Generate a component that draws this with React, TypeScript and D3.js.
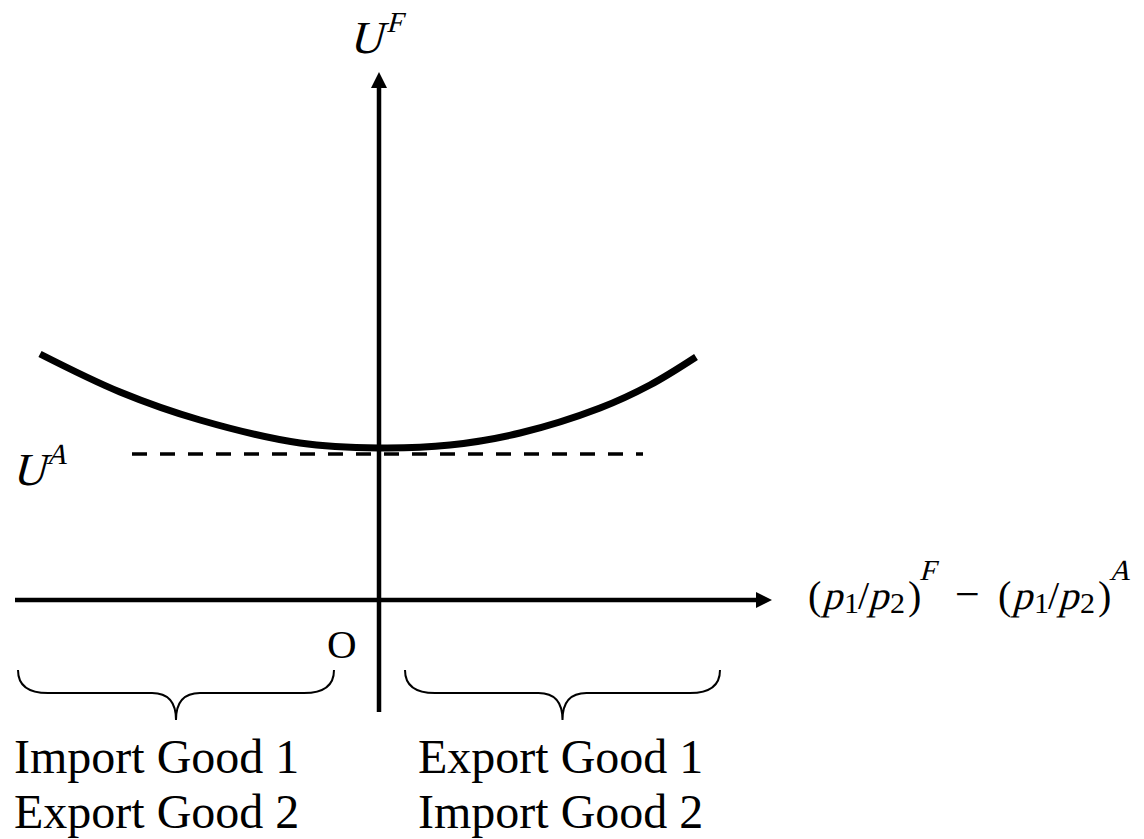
import React from "react";
import * as d3 from "d3";

// Relative price difference (x) and welfare under free trade (y), in diagram units
const curveX = [-3.39, -2.59, -1.79, -0.79, 0, 0.71, 1.41, 2.21, 2.71, 3.17];
const curveY = [2.46, 2.08, 1.8, 1.57, 1.52, 1.55, 1.67, 1.92, 2.15, 2.43];
// Autarky utility level (dashed) and its extent
const autarkyU = 1.46;
const autarkyX = [-2.47, 2.64];
// Axis extents
const xAxisExtent = [-3.64, 3.93];
const yAxisExtent = [-1.12, 5.28];
// Braces (x ranges) and labels
const braceRanges = [
  [-3.61, -0.45],
  [0.26, 3.41],
];
const braceLabels = [
  ["Import Good 1", "Export Good 2"],
  ["Export Good 1", "Import Good 2"],
];

const W = 1144;
const H = 839;
const FONT = "'Liberation Serif', 'Times New Roman', serif";

function Glyph({ t, x, y, fs, it }: { t: string; x: number; y: number; fs: number; it: boolean }) {
  return (
    <text
      transform={`translate(${x},${y})${it ? " skewX(-15)" : ""}`}
      fontSize={fs}
      fontFamily={FONT}
    >
      {t}
    </text>
  );
}

export default function App() {
  const x = d3.scaleLinear().domain(xAxisExtent).range([15, 772]);
  const y = d3.scaleLinear().domain(yAxisExtent).range([712, 72]);

  const pts: [number, number][] = curveX.map((v, i) => [v, curveY[i]]);
  const line = d3
    .line<[number, number]>()
    .x((d) => x(d[0]))
    .y((d) => y(d[1]))
    .curve(d3.curveCatmullRom.alpha(0.5));

  const x0 = x(0);
  const y0 = y(0);
  const xTip = x(xAxisExtent[1]);
  const yTip = y(yAxisExtent[1]);
  const ah = 16;
  const aw = 8;

  const braceTop = 670;
  const braceFlat = 693;
  const braceTip = 720;
  const bracePath = (a: number, b: number) => {
    const x1 = x(a);
    const x2 = x(b);
    const mid = (x1 + x2) / 2;
    const r = 30;
    const r2 = 24;
    return `M${x1},${braceTop} Q${x1},${braceFlat} ${x1 + r},${braceFlat} L${mid - r2},${braceFlat} Q${mid},${braceFlat} ${mid},${braceTip} Q${mid},${braceFlat} ${mid + r2},${braceFlat} L${x2 - r},${braceFlat} Q${x2},${braceFlat} ${x2},${braceTop}`;
  };

  const labelParts = (startX: number, sup: string) => [
    { t: "(", x: startX, it: false, fs: 40, dy: 0 },
    { t: "p", x: startX + 14, it: true, fs: 40, dy: 0 },
    { t: "1", x: startX + 36, it: false, fs: 30, dy: 4 },
    { t: "/", x: startX + 50, it: false, fs: 40, dy: 0 },
    { t: "p", x: startX + 60, it: true, fs: 40, dy: 0 },
    { t: "2", x: startX + 82, it: false, fs: 30, dy: 4 },
    { t: ")", x: startX + 100, it: false, fs: 40, dy: 0 },
    { t: sup, x: startX + 111, it: true, fs: 29, dy: -29 },
  ];
  const lblBase = 609;
  const parts = [
    ...labelParts(808, "F"),
    { t: "\u2212", x: 955, it: false, fs: 44, dy: 0 },
    ...labelParts(998, "A"),
  ];

  return (
    <svg
      width={W}
      height={H}
      style={{ position: "absolute", left: 0, top: 0, display: "block", background: "#fff" }}
      fontFamily={FONT}
    >
      {/* curve */}
      <path d={line(pts) || ""} fill="none" stroke="#000" strokeWidth={7} />
      {/* autarky dashed line */}
      <line
        x1={x(autarkyX[0])}
        x2={x(autarkyX[1])}
        y1={y(autarkyU)}
        y2={y(autarkyU)}
        stroke="#000"
        strokeWidth={3.5}
        strokeDasharray="15,13"
      />
      {/* axes */}
      <line x1={x(xAxisExtent[0])} x2={xTip - ah + 2} y1={y0} y2={y0} stroke="#000" strokeWidth={4.5} />
      <path d={`M${xTip},${y0} L${xTip - ah},${y0 - aw} L${xTip - ah},${y0 + aw} Z`} fill="#000" />
      <line x1={x0} x2={x0} y1={y(yAxisExtent[0])} y2={yTip + ah - 2} stroke="#000" strokeWidth={4.5} />
      <path d={`M${x0},${yTip} L${x0 - aw},${yTip + ah} L${x0 + aw},${yTip + ah} Z`} fill="#000" />

      {/* U^F */}
      <Glyph t="U" x={349} y={53} fs={46} it />
      <Glyph t="F" x={386} y={32} fs={29} it />
      {/* U^A */}
      <Glyph t="U" x={12} y={485} fs={46} it />
      <Glyph t="A" x={46} y={464} fs={29} it />
      {/* origin */}
      <text x={327} y={658} fontSize={41}>O</text>

      {/* x-axis label */}
      {parts.map((p, i) => (
        <Glyph key={i} t={p.t} x={p.x} y={lblBase + p.dy} fs={p.fs} it={p.it} />
      ))}

      {/* braces and labels */}
      {braceRanges.map((r, i) => (
        <g key={i}>
          <path d={bracePath(r[0], r[1])} fill="none" stroke="#000" strokeWidth={2} />
          {braceLabels[i].map((s, j) => (
            <text key={j} x={i === 0 ? 14 : 418} y={773 + j * 55} fontSize={48}>
              {s}
            </text>
          ))}
        </g>
      ))}
    </svg>
  );
}
